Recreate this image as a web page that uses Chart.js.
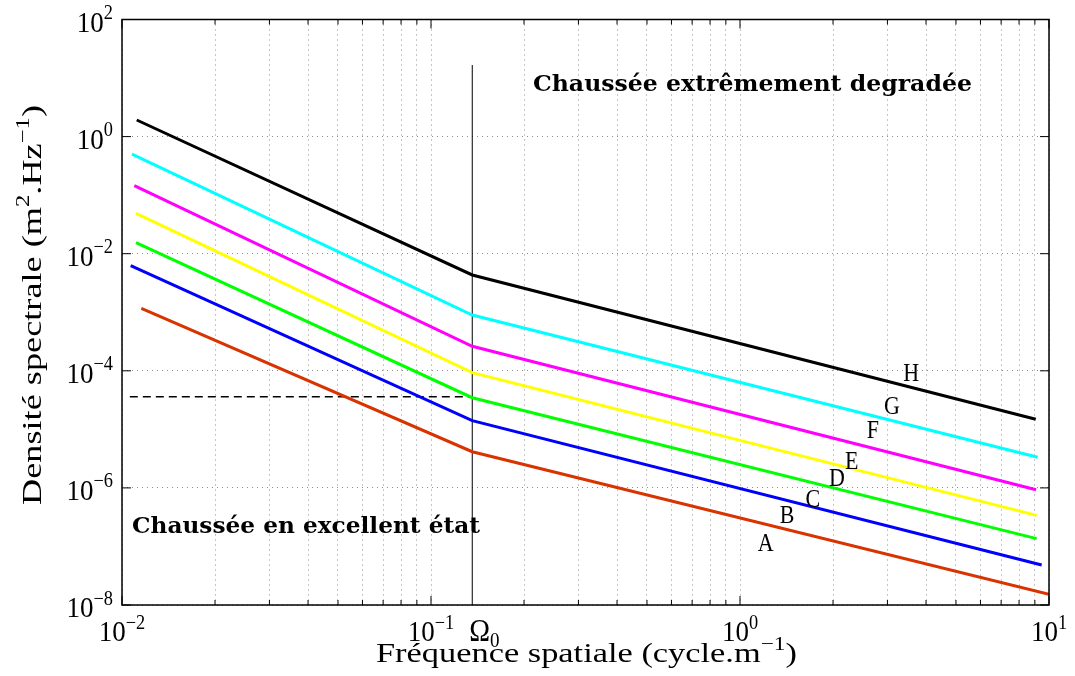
<!DOCTYPE html>
<html><head><meta charset="utf-8">
<script src="https://cdn.jsdelivr.net/npm/chart.js@4.4.0/dist/chart.umd.min.js"></script>
<style>html,body{margin:0;padding:0;background:#fff}canvas{display:block}</style>
</head><body>
<canvas id="c" width="1075" height="676" style="width:1075px;height:676px"></canvas>
<script>
// ---------- DATA ----------
const omega0 = 0.136;                       // break frequency (cycle/m)
const lineNames  = ['H/G', 'G/F', 'F/E', 'E/D', 'D/C', 'C/B', 'B/A'];
const lineColors = ['#000000', '#00ffff', '#ff00ff', '#ffff00', '#00ff00', '#0000ff', '#d93300'];
const xStart = [0.01116, 0.01077, 0.01096, 0.01110, 0.01110, 0.01067, 0.01155];
const yStart = [1.92, 0.504, 0.145, 0.049, 0.0154, 0.00624, 0.00117];
const yBreak = [0.00433, 8.97e-4, 2.62e-4, 9.29e-5, 3.47e-5, 1.41e-5, 4.15e-6];
const xEnd   = [9.06, 9.19, 9.08, 9.12, 9.12, 9.47, 10];
const yEnd   = [1.486e-5, 3.33e-6, 9.31e-7, 3.40e-7, 1.36e-7, 4.82e-8, 1.52e-8];

const dashedX = [0.0106, omega0];
const dashedY = [3.6e-5, 3.6e-5];
const omegaLineY = [1e-8, 16.7];

const classLabels = ['A', 'B', 'C', 'D', 'E', 'F', 'G', 'H'];
const classLabelX = [1.21, 1.42, 1.72, 2.06, 2.30, 2.69, 3.10, 3.58];
const classLabelY = [1.15e-7, 3.58e-7, 6.7e-7, 1.48e-6, 2.99e-6, 9.75e-6, 2.6e-5, 9.2e-5];

const noteTexts = ['Chaussée extrêmement degradée', 'Chaussée en excellent état'];
const noteX = [1.097, 0.0394];
const noteY = [6.0, 1.7e-7];

const xTickValues = [0.01, 0.1, 1, 10];
const xTickExps   = ['−2', '−1', '0', '1'];
const yTickValues = [1e-8, 1e-6, 1e-4, 1e-2, 1, 100];
const yTickExps   = ['−8', '−6', '−4', '−2', '0', '2'];
const xMinorValues = [0.02,0.03,0.04,0.05,0.06,0.07,0.08,0.09,0.2,0.3,0.4,0.5,0.6,0.7,0.8,0.9,2,3,4,5,6,7,8,9];

// ---------- BUILD ----------
const datasets = lineNames.map((n, i) => ({
  label: n,
  data: [{x: xStart[i], y: yStart[i]}, {x: omega0, y: yBreak[i]}, {x: xEnd[i], y: yEnd[i]}],
  borderColor: lineColors[i], borderWidth: 3, pointRadius: 0, fill: false
}));
datasets.push({
  label: 'seuil', data: dashedX.map((x, i) => ({x, y: dashedY[i]})),
  borderColor: '#000', borderWidth: 1.5, borderDash: [8, 5], pointRadius: 0, fill: false
});
datasets.push({
  label: 'Omega0', data: omegaLineY.map(y => ({x: omega0, y})),
  borderColor: '#000', borderWidth: 1, pointRadius: 0, fill: false
});

const FONT = '"Liberation Serif", "Times New Roman", serif';
function drawRich(ctx, segs, x, y, o) {
  const size = o.size, fam = o.family || FONT, b = o.bold ? 'bold ' : '';
  const sy = o.sy || 1;
  const parts = segs.map(s => {
    const fs = (s.sup || s.sub) ? size * 0.68 : size;
    ctx.font = b + fs + 'px ' + fam;
    return {t: s.t, font: ctx.font, w: ctx.measureText(s.t).width,
            dy: s.sup ? -size * 0.42 : (s.sub ? size * 0.2 : 0)};
  });
  const W = parts.reduce((a, p) => a + p.w, 0);
  const sx = o.width ? o.width / W : (o.sx || 1);
  let start = o.align === 'center' ? -W / 2 : (o.align === 'right' ? -W : 0);
  ctx.save();
  ctx.translate(x, y);
  if (o.rot) ctx.rotate(o.rot);
  ctx.scale(sx, sy);
  ctx.fillStyle = '#000';
  ctx.textBaseline = 'alphabetic';
  ctx.textAlign = 'left';
  parts.forEach(p => { ctx.font = p.font; ctx.fillText(p.t, start, p.dy); start += p.w; });
  ctx.restore();
}

const overlay = {
  id: 'overlay',
  afterDraw(chart) {
    const {ctx, chartArea: a, scales: {x, y}} = chart;
    ctx.save();
    ctx.strokeStyle = '#000';
    ctx.lineWidth = 1.5;
    ctx.strokeRect(a.left, a.top, a.right - a.left, a.bottom - a.top);
    ctx.lineWidth = 1;
    const seg = (x1, y1, x2, y2) => { ctx.beginPath(); ctx.moveTo(x1, y1); ctx.lineTo(x2, y2); ctx.stroke(); };
    xTickValues.forEach(v => { const p = x.getPixelForValue(v); seg(p, a.bottom, p, a.bottom - 9); seg(p, a.top, p, a.top + 9); });
    xMinorValues.forEach(v => { const p = x.getPixelForValue(v); seg(p, a.bottom, p, a.bottom - 5); seg(p, a.top, p, a.top + 5); });
    yTickValues.forEach(v => { const p = y.getPixelForValue(v); seg(a.left, p, a.left + 9, p); seg(a.right, p, a.right - 9, p); });
    ctx.restore();

    // tick labels
    xTickValues.forEach((v, i) => {
      drawRich(ctx, [{t: '10'}, {t: xTickExps[i], sup: true}], x.getPixelForValue(v), 641, {size: 27, sy: 1.1, align: 'center'});
    });
    yTickValues.forEach((v, i) => {
      drawRich(ctx, [{t: '10'}, {t: yTickExps[i], sup: true}], 113, y.getPixelForValue(v) + 12, {size: 27, sy: 1.1, align: 'right'});
    });
    drawRich(ctx, [{t: 'Ω'}, {t: '0', sub: true}], x.getPixelForValue(omega0) - 3, 641, {size: 28, sy: 1.1, align: 'left'});

    // axis titles
    drawRich(ctx, [{t: 'Fréquence spatiale (cycle.m'}, {t: '−1', sup: true}, {t: ')'}], 586.5, 662,
             {size: 29, sy: 0.95, align: 'center', width: 421});
    drawRich(ctx, [{t: 'Densité spectrale (m'}, {t: '2', sup: true}, {t: '.Hz'}, {t: '−1', sup: true}, {t: ')'}], 41, 305,
             {size: 29, sy: 0.95, align: 'center', width: 400, rot: -Math.PI / 2});

    // class labels
    classLabels.forEach((t, i) => {
      drawRich(ctx, [{t}], x.getPixelForValue(classLabelX[i]), y.getPixelForValue(classLabelY[i]) + 8.5,
               {size: 22, sy: 1.15, align: 'center'});
    });
    // notes
    const noteW = [439, 348];
    noteTexts.forEach((t, i) => {
      drawRich(ctx, [{t}], x.getPixelForValue(noteX[i]), y.getPixelForValue(noteY[i]),
               {size: 21, sy: 1.08, bold: true, family: '"DejaVu Serif", serif', align: 'center', width: noteW[i]});
    });
  }
};

new Chart(document.getElementById('c'), {
  type: 'line',
  data: {datasets},
  options: {
    responsive: false, animation: false, devicePixelRatio: 1,
    layout: {padding: {left: 122, right: 26, top: 19.5, bottom: 71}},
    plugins: {legend: {display: false}, tooltip: {enabled: false}},
    elements: {point: {radius: 0}, line: {tension: 0}},
    scales: {
      x: {
        type: 'logarithmic', min: 0.01, max: 10,
        afterBuildTicks: s => { s.ticks = xTickValues.concat(xMinorValues).sort((p, q) => p - q).map(v => ({value: v})); },
        ticks: {display: false},
        grid: {color: 'rgba(0,0,0,0.45)', lineWidth: 1, drawTicks: false},
        border: {display: false, dash: [1, 4]}
      },
      y: {
        type: 'logarithmic', min: 1e-8, max: 100,
        afterBuildTicks: s => { s.ticks = yTickValues.map(v => ({value: v})); },
        ticks: {display: false},
        grid: {color: 'rgba(0,0,0,0.45)', lineWidth: 1, drawTicks: false},
        border: {display: false, dash: [1, 4]}
      }
    }
  },
  plugins: [overlay]
});
</script>
</body></html>
